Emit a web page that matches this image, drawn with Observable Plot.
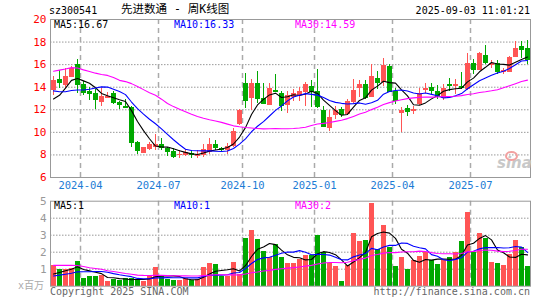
<!DOCTYPE html>
<html><head><meta charset="utf-8">
<script src="https://cdn.jsdelivr.net/npm/d3@7"></script>
<script src="https://cdn.jsdelivr.net/npm/@observablehq/plot@0.6"></script>
<style>
body{margin:0;background:#fff}
#wrap{position:relative;width:545px;height:300px;overflow:hidden;background:#fff;font-family:"DejaVu Sans Mono",monospace;font-size:10px}
#wrap svg{position:absolute;left:0}
.t{position:absolute;white-space:pre;line-height:12px;z-index:5}
</style></head><body><div id="wrap"></div>
<script>
// ---- data (weekly K-line, sz300541) ----
const tickIdx = [5, 18, 32, 44, 57, 70];
const tickLabels = ["2024-04","2024-07","2024-10","2025-01","2025-04","2025-07"];
const priceTicks = [6, 8, 10, 12, 14, 16, 18, 20];
const volTicks = [1, 2, 3, 4, 5];

const open = [13.84,14.70,14.28,14.96,16.00,14.20,13.58,13.40,12.70,13.10,
 13.45,12.62,12.30,12.24,9.10,8.23,8.60,8.73,8.96,8.60,
 8.30,8.00,8.03,8.15,7.92,8.03,8.32,8.90,8.60,8.45,
 8.82,10.77,14.35,13.10,14.30,12.96,12.50,13.73,13.45,12.45,
 13.15,13.35,13.60,14.08,13.58,11.97,10.45,11.55,12.00,11.65,
 12.76,14.00,14.28,13.20,14.75,14.52,15.85,13.58,11.74,12.15,
 11.90,12.53,13.76,14.00,13.64,13.05,14.23,14.14,14.08,13.93,
 16.07,15.60,16.80,16.04,16.07,15.37,15.39,16.71,17.59,17.44];
const close = [14.58,14.45,14.96,15.65,14.25,13.50,13.42,12.95,13.14,13.20,
 12.65,12.48,12.20,9.10,8.35,8.62,8.90,8.96,8.67,8.32,
 7.86,8.08,8.20,8.00,8.08,8.50,8.90,8.67,8.45,8.75,
 10.07,11.97,12.85,14.30,12.96,12.55,13.93,13.62,12.40,13.25,
 13.45,13.64,14.23,13.60,12.32,10.48,11.30,11.90,11.55,12.70,
 13.73,14.28,13.05,14.96,14.45,15.92,13.64,12.85,11.95,11.82,
 12.00,13.40,13.88,13.73,13.26,13.93,14.14,14.23,13.99,16.07,
 15.60,16.95,16.21,16.12,15.39,15.45,16.62,17.44,17.35,16.50];
const high = [14.96,15.45,15.63,15.80,16.50,14.55,14.00,13.80,13.93,13.55,
 13.65,12.76,12.90,12.32,9.20,8.70,9.10,9.80,9.50,8.70,
 8.55,8.38,8.45,8.38,8.35,8.90,9.50,9.25,8.70,9.00,
 10.37,12.05,15.25,14.70,15.40,14.30,14.37,15.10,13.64,13.60,
 13.80,14.00,14.40,14.60,15.55,12.30,11.95,12.30,12.20,12.95,
 14.67,14.58,14.60,16.00,15.40,16.56,16.00,13.85,12.20,12.35,
 12.30,13.88,14.37,14.37,14.17,14.23,14.81,14.67,15.33,16.95,
 16.42,17.10,17.74,16.33,16.33,15.63,16.70,18.03,18.03,18.10];
const low = [13.26,13.90,13.93,14.90,13.40,13.30,12.80,12.00,12.32,13.00,
 12.50,12.05,12.15,8.67,8.03,8.12,8.38,8.40,8.38,7.88,
 7.65,7.70,7.85,7.70,7.65,7.80,8.05,8.38,8.30,8.05,
 8.67,10.57,12.10,11.90,12.60,12.45,12.35,13.58,11.85,11.65,
 12.70,12.70,12.30,12.20,12.15,10.42,10.05,11.10,11.30,11.45,
 12.60,13.05,12.90,13.05,13.80,14.08,13.58,12.50,10.00,11.40,
 11.60,12.40,13.45,13.35,12.90,12.82,13.64,13.35,13.79,13.70,
 15.10,15.55,15.98,15.63,15.16,15.10,15.33,16.62,16.56,16.00];
const volume = [1.24,1.00,1.00,1.03,1.43,0.46,0.58,0.58,0.65,0.27,
 0.39,0.35,0.45,0.45,0.40,0.30,0.55,1.10,0.65,0.39,
 0.35,0.35,0.45,0.35,0.39,1.08,1.31,1.25,0.60,0.60,
 1.37,0.68,2.78,3.30,2.72,2.06,1.70,2.45,1.68,1.33,
 1.33,1.58,1.81,1.81,2.99,1.97,1.35,1.16,0.27,1.20,
 3.12,2.64,2.70,4.86,2.16,3.60,2.29,1.16,1.68,0.97,
 1.49,1.73,2.00,1.49,1.25,1.49,1.68,2.00,2.64,4.32,
 2.00,3.10,2.83,1.37,1.33,1.20,1.87,2.70,2.29,1.16];
// weeks before the visible window (only felt through the moving averages)
const priorClose = [11.6,11.9,12.0,15.5,18.3,17.8,17.3,16.5,15.8,18.5,19.8,15.5,14.5,16.0,16.9,
 17.2,15.7,19.0,19.8,16.2,15.2,15.0,14.6,13.8,13.4,12.8,11.8,12.2,13.4];
const priorVolume = [1.0,1.0,1.05,1.45,2.4,2.6,1.9,2.2,2.8,1.8,2.0,2.3,1.8,1.9,0.8,
 0.7,0.9,0.6,0.8,0.7,0.5,0.45,0.5,0.55,0.4,0.55,0.5,0.6,0.7];
const priceMaLabels = ["MA5:16.67", "MA10:16.33", "MA30:14.59"];
const volMaLabels = ["MA5:1", "MA10:1", "MA30:2"];

// ---- build ----
const RED = "#ff5555", GREEN = "#00a800";
const N = close.length;
const idx = d3.range(N);
const candles = idx.map(i => ({i, o: open[i], c: close[i], h: high[i], l: low[i], v: volume[i],
  col: close[i] >= open[i] ? RED : GREEN}));
function ma(prior, vals, n) {
  const all = prior.concat(vals);
  return vals.map((_, i) => { const k = i + prior.length; return d3.mean(all.slice(k - n + 1, k + 1)); });
}
const pma = [5, 10, 30].map(n => ma(priorClose, close, n));
const vma = [5, 10, 30].map(n => ma(priorVolume, volume, n));
const maColors = ["#000000", "#0000ff", "#ff00ff"];
const gridX = tickIdx.map(k => k - 0.5);
const hw = 5 / 12;

const common = {
  width: 545, marginLeft: 50, marginRight: 15,
  x: {domain: [-0.5, N - 0.5], axis: null},
  color: {type: "identity"},
  style: {fontFamily: "DejaVu Sans Mono", fontSize: "11px", background: "transparent"}
};
const gridMarks = [
  Plot.ruleX(gridX, {stroke: "#aaa", strokeWidth: 1.5, strokeDasharray: "5,4"})
];
const maLines = (arr) => arr.map((m, k) => Plot.line(idx, {x: d => d, y: d => m[d], stroke: maColors[k], strokeWidth: 1.1}));

const price = Plot.plot({
  ...common, height: 195, marginTop: 19, marginBottom: 18,
  y: {domain: [6, 20], axis: null},
  marks: [
    Plot.ruleY(priceTicks.slice(1, -1), {stroke: "#999", strokeDasharray: "1.5,1.5"}),
    ...gridMarks,
    Plot.ruleX(candles, {x: "i", y1: "l", y2: "h", stroke: "col", shapeRendering: "crispEdges"}),
    Plot.rect(candles, {x1: d => d.i - hw, x2: d => d.i + hw, y1: "o", y2: "c", fill: "col", shapeRendering: "crispEdges"}),
    Plot.ruleY(candles, {y: "c", x1: d => d.i - hw, x2: d => d.i + hw, stroke: "col", shapeRendering: "crispEdges"}),
    Plot.ruleY(candles, {y: "o", x1: d => d.i - hw, x2: d => d.i + hw, stroke: "col", shapeRendering: "crispEdges"}),
    ...maLines(pma),
    Plot.frame({stroke: "#999"}),
    Plot.axisY({ticks: priceTicks, tickFormat: d => String(d), tickSize: 0, tickPadding: 4, color: "#f00", fontSize: 11, label: null}),
    Plot.axisX({ticks: gridX, tickFormat: d => tickLabels[gridX.indexOf(d)], tickSize: 0, tickPadding: 4,
      color: "#1c7cd5", fontSize: 10.5, label: null})
  ]
});
price.style.top = "0px";

const vol = Plot.plot({
  ...common, height: 95, marginTop: 5.7, marginBottom: 4.3,
  y: {domain: [0, 5], axis: null},
  marks: [
    Plot.ruleY(volTicks.slice(0, -1), {stroke: "#999", strokeDasharray: "1.5,1.5"}),
    ...gridMarks,
    Plot.rect(candles, {x1: d => d.i - hw, x2: d => d.i + hw, y1: 0, y2: "v", fill: "col", shapeRendering: "crispEdges"}),
    ...maLines(vma),
    Plot.frame({stroke: "#999"}),
    Plot.axisY({ticks: volTicks, tickFormat: d => String(d), tickSize: 0, tickPadding: 4, color: "#999", fontSize: 11, label: null})
  ]
});
vol.style.top = "195px";

const wrap = document.getElementById("wrap");
wrap.append(price, vol);
function txt(s, css) {
  const d = document.createElement("div");
  d.className = "t"; d.textContent = s;
  Object.assign(d.style, css);
  wrap.append(d);
  return d;
}
txt("sz300541", {left: "49px", top: "5px"});
txt("先进数通 - 周K线图", {left: "121px", top: "3px", fontSize: "11.5px", lineHeight: "13px", fontFamily: "'DejaVu Sans Mono','Noto Sans CJK SC',monospace"});
txt("2025-09-03 11:01:21", {right: "15px", top: "5px"});
const labelLeft = [54, 174, 295];
priceMaLabels.forEach((s, k) => txt(s, {left: labelLeft[k] + "px", top: "19px", color: maColors[k]}));
volMaLabels.forEach((s, k) => txt(s, {left: labelLeft[k] + "px", top: "200px", color: maColors[k]}));
txt("x百万", {left: "18px", top: "280px", color: "#aaa", fontFamily: "'DejaVu Sans Mono','Noto Sans CJK SC',monospace"});
txt("Copyright 2025 SINA.COM", {left: "50px", top: "286px", color: "#666"});
txt("http://finance.sina.com.cn", {right: "15px", top: "286px", color: "#666"});
// sina watermark
txt("sina", {left: "497px", top: "155px", fontFamily: "'DejaVu Sans',sans-serif", fontStyle: "italic", fontWeight: "bold", fontSize: "15px", lineHeight: "16px", color: "#c8c8c8", zIndex: 1});
const eye = document.createElement("div");
Object.assign(eye.style, {position: "absolute", left: "505px", top: "151px", width: "9px", height: "6px", border: "2px solid #f2a0a0", borderRadius: "50%", zIndex: 1});
wrap.append(eye);
</script></body></html>
